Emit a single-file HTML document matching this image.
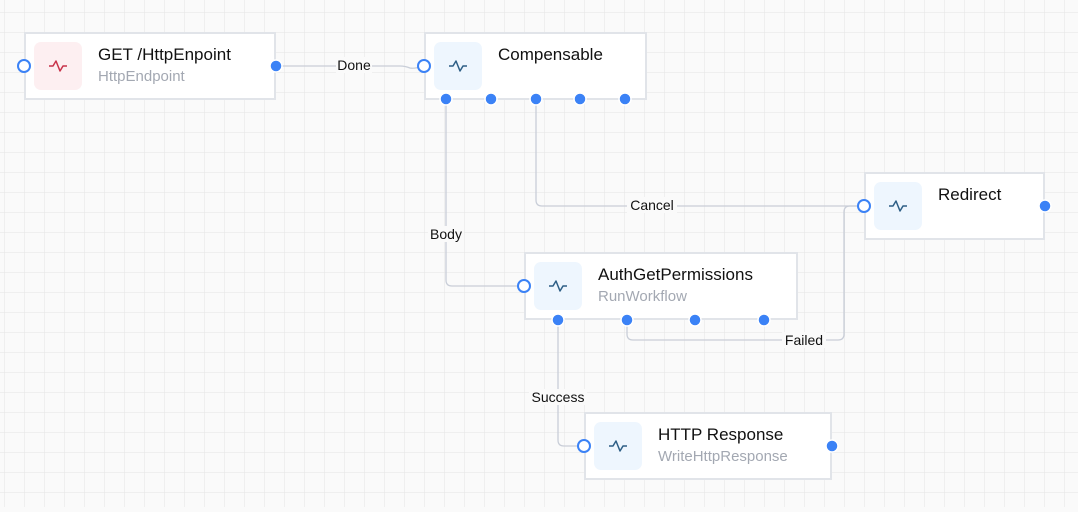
<!DOCTYPE html>
<html><head><meta charset="utf-8"><style>
html,body{margin:0;padding:0;}
body{width:1078px;height:507px;overflow:hidden;background:#fafafa;font-family:"Liberation Sans",sans-serif;}
</style></head><body>
<svg width="1078" height="507" xmlns="http://www.w3.org/2000/svg" font-family="Liberation Sans, sans-serif">
<defs>
<pattern id="g" x="5" y="13" width="20" height="20" patternUnits="userSpaceOnUse">
<path d="M20 0V20M0 20H20" stroke="#e4e4e4" stroke-width="1" fill="none"/>
</pattern>
</defs>
<rect width="1078" height="507" fill="#fafafa"/>
<rect width="1078" height="507" fill="url(#g)"/>

<g fill="none" stroke="#c9ced8" stroke-width="1.3">
<path d="M276 66 H400 Q405 66 410 68 Q414 69 424 66"/>
<path d="M446 99 V280 Q446 286 452 286 H524"/>
<path d="M536 99 V200 Q536 206 542 206 H864"/>
<path d="M627 320 V334 Q627 340 633 340 H838 Q844 340 844 334 V212 Q844 206 850 206 H864"/>
<path d="M558 320 V440 Q558 446 564 446 H584"/>
</g>

<g font-size="14" fill="#111" text-anchor="middle">
<rect x="336" y="57" width="36" height="16" fill="#fafafa"/><text x="354" y="70">Done</text>
<rect x="428" y="226" width="36" height="16" fill="#fafafa"/><text x="446" y="239">Body</text>
<rect x="627" y="197" width="50" height="16" fill="#fafafa"/><text x="652" y="210">Cancel</text>
<rect x="782" y="332" width="44" height="16" fill="#fafafa"/><text x="804" y="345">Failed</text>
<rect x="529" y="389" width="58" height="16" fill="#fafafa"/><text x="558" y="402">Success</text>
</g>

<g stroke="#e1e4e9" stroke-width="2" fill="#fff">
<rect x="25" y="33" width="250" height="66"/>
<rect x="425" y="33" width="221" height="66"/>
<rect x="865" y="173" width="179" height="66"/>
<rect x="525" y="253" width="272" height="66"/>
<rect x="585" y="413" width="246" height="66"/>
</g>

<rect x="34" y="42" width="48" height="48" rx="7" fill="#fdeff1"/>
<rect x="434" y="42" width="48" height="48" rx="7" fill="#eef6fe"/>
<rect x="874" y="182" width="48" height="48" rx="7" fill="#eef6fe"/>
<rect x="534" y="262" width="48" height="48" rx="7" fill="#eef6fe"/>
<rect x="594" y="422" width="48" height="48" rx="7" fill="#eef6fe"/>
<g fill="none" stroke-width="1.5" stroke-linejoin="round">
<path d="M49 66 h4 l3 -5 l4 10 l3 -5 h4" stroke="#c8334a"/>
<path d="M449 66 h4 l3 -5 l4 10 l3 -5 h4" stroke="#2e5f86"/>
<path d="M889 206 h4 l3 -5 l4 10 l3 -5 h4" stroke="#2e5f86"/>
<path d="M549 286 h4 l3 -5 l4 10 l3 -5 h4" stroke="#2e5f86"/>
<path d="M609 446 h4 l3 -5 l4 10 l3 -5 h4" stroke="#2e5f86"/>
</g>

<g font-size="17" fill="#111">
<text x="98" y="60">GET /HttpEnpoint</text>
<text x="498" y="60">Compensable</text>
<text x="938" y="200">Redirect</text>
<text x="598" y="280">AuthGetPermissions</text>
<text x="658" y="440">HTTP Response</text>
</g>
<g font-size="15" fill="#a3a8b2">
<text x="98" y="81">HttpEndpoint</text>
<text x="598" y="301">RunWorkflow</text>
<text x="658" y="461">WriteHttpResponse</text>
</g>

<g fill="#fff" stroke="#3b82f6" stroke-width="2">
<circle cx="24" cy="66" r="6"/>
<circle cx="424" cy="66" r="6"/>
<circle cx="864" cy="206" r="6"/>
<circle cx="524" cy="286" r="6"/>
<circle cx="584" cy="446" r="6"/>
</g>
<g fill="#3b82f6" stroke="#fff" stroke-width="1.5">
<circle cx="276" cy="66" r="6"/>
<circle cx="446" cy="99" r="6"/><circle cx="491" cy="99" r="6"/><circle cx="536" cy="99" r="6"/><circle cx="580" cy="99" r="6"/><circle cx="625" cy="99" r="6"/>
<circle cx="1045" cy="206" r="6"/>
<circle cx="558" cy="320" r="6"/><circle cx="627" cy="320" r="6"/><circle cx="695" cy="320" r="6"/><circle cx="764" cy="320" r="6"/>
<circle cx="832" cy="446" r="6"/>
</g>
</svg>
</body></html>
